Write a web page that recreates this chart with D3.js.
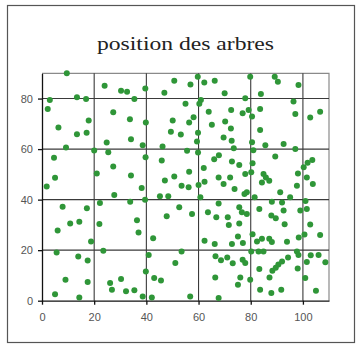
<!DOCTYPE html>
<html>
<head>
<meta charset="utf-8">
<script src="https://cdn.jsdelivr.net/npm/d3@7"></script>
<style>
  body { margin: 0; background: #fff; }
</style>
</head>
<body>
<div id="chart"></div>
<script>
const title = "position des arbres";
const xTicks = [0, 20, 40, 60, 80, 100];
const yTicks = [0, 20, 40, 60, 80];

// tree positions [x, y], grouped by horizontal band of the grid
const trees60to90 = [
  [9.5, 90], [24.0, 85.1], [30.3, 83.1], [32.6, 82.7], [35.4, 79.8], [39.6, 84.0], [50.7, 87.1],
  [46.9, 82.3], [3.0, 79.4], [13.4, 80.5], [16.9, 79.8], [2.2, 75.9], [17.9, 71.3], [6.3, 68.5],
  [13.4, 65.9], [17.1, 66.5], [27.3, 74.6], [33.7, 71.8], [39.8, 70.5], [24.8, 62.6], [34.1, 63.9],
  [38.6, 61.5], [9.2, 60.6], [46.2, 61.0], [50.1, 71.3], [49.4, 66.9], [53.2, 65.8], [20.0, 59.4],
  [25.4, 58.8],
  [59.7, 88.6], [56.9, 85.6], [62.2, 86.4], [66.2, 87.1], [79.8, 88.6], [89.2, 88.6], [90.4, 86.7],
  [98.3, 85.4], [70.0, 82.1], [83.9, 81.8], [77.9, 80.1], [60.9, 79.4], [60.3, 77.9], [55.0, 77.9],
  [96.4, 78.8], [63.9, 74.8], [72.5, 75.5], [76.9, 74.2], [79.2, 75.5], [80.5, 72.9], [83.6, 75.9],
  [97.1, 73.9], [102.8, 72.5], [106.6, 74.8], [58.1, 72.6], [56.4, 70.5], [65.1, 69.6], [70.2, 70.9],
  [72.4, 68.2], [83.6, 67.6], [59.8, 66.5], [69.6, 64.6], [72.7, 63.3], [73.5, 60.3], [80.5, 62.7],
  [81.0, 59.5], [85.6, 61.5], [92.6, 62.0], [59.4, 63.0], [55.6, 59.3], [59.8, 58.7], [97.1, 60.0],
  [89.4, 57.1]
];

const trees40to60 = [
  [4.6, 56.6], [5.0, 48.7], [1.8, 45.2], [39.7, 56.8], [45.9, 55.5], [27.3, 53.1], [21.0, 50.3],
  [34.1, 49.6], [47.1, 47.6], [50.7, 49.2], [38.2, 44.6], [53.5, 45.5], [27.7, 41.8], [39.5, 40.0],
  [45.2, 41.3], [48.4, 41.3],
  [66.0, 56.0], [67.8, 57.6], [72.8, 55.1], [75.6, 53.7], [80.7, 54.4], [62.0, 52.5], [56.4, 51.0],
  [77.9, 50.1], [80.2, 50.8], [84.9, 50.1], [85.8, 48.8], [84.3, 46.8], [87.1, 47.5], [98.1, 50.3],
  [100.3, 52.8], [101.8, 54.6], [103.6, 55.7], [67.7, 48.8], [69.6, 46.2], [72.1, 48.8], [101.5, 48.8],
  [103.8, 46.2], [56.2, 44.9], [60.0, 45.8], [62.3, 47.1], [73.8, 44.2], [78.5, 42.9], [77.6, 42.2],
  [91.3, 42.9], [97.7, 45.5], [60.7, 40.9], [81.5, 40.9], [95.1, 40.9]
];

const trees20to40 = [
  [22.2, 38.7], [33.8, 39.2], [7.9, 37.2], [17.2, 36.6], [47.8, 33.4], [52.6, 37.0], [10.8, 30.6],
  [14.3, 31.2], [36.4, 31.8], [22.0, 30.4], [6.0, 27.8], [37.0, 27.0], [42.6, 24.7], [18.8, 23.4],
  [88.1, 39.2], [92.0, 38.9], [101.0, 39.5], [67.7, 38.5], [63.6, 35.0], [66.8, 33.0], [57.5, 34.3],
  [75.6, 37.0], [76.6, 35.0], [78.5, 34.3], [83.3, 36.3], [87.9, 33.7], [89.6, 32.6], [92.6, 35.7],
  [99.0, 35.7], [101.5, 36.3], [71.2, 33.0], [71.6, 30.0], [75.6, 30.6], [80.7, 26.3], [82.4, 23.4],
  [84.3, 24.5], [87.1, 24.5], [88.1, 23.2], [93.0, 30.3], [93.9, 23.3], [98.4, 25.0], [100.6, 26.2],
  [102.8, 30.2], [106.6, 26.0], [62.3, 23.7], [66.2, 22.4], [72.8, 22.4], [75.1, 25.4], [77.0, 22.8]
];

const trees0to20 = [
  [5.6, 19.1], [13.9, 17.5], [17.5, 15.9], [23.5, 19.8], [40.9, 18.1], [53.5, 19.5], [51.1, 14.9],
  [39.8, 11.6], [43.0, 9.0], [45.6, 8.0], [9.0, 8.3], [17.5, 7.4], [26.1, 7.0], [26.8, 4.3],
  [30.3, 8.6], [32.2, 3.7], [35.4, 4.1], [38.6, 1.7], [42.1, 1.3], [5.0, 2.6], [14.3, 1.3],
  [66.5, 17.6], [68.6, 16.0], [71.0, 17.1], [73.1, 14.8], [76.9, 16.2], [77.9, 14.9], [80.2, 19.5],
  [83.0, 19.5], [84.9, 19.5], [83.3, 12.5], [87.2, 9.2], [88.3, 11.9], [89.6, 13.0], [90.6, 14.3],
  [92.0, 15.5], [94.3, 17.1], [97.7, 19.5], [98.3, 18.1], [101.5, 15.3], [103.0, 18.0], [106.0, 18.1],
  [108.6, 15.2], [98.0, 12.7], [100.9, 9.0], [66.4, 9.2], [76.0, 9.2], [75.1, 6.3], [79.8, 8.3],
  [83.6, 4.3], [87.9, 3.0], [91.7, 4.3], [105.0, 3.9], [56.8, 1.7], [67.7, 1.1]
];

const trees = [].concat(trees60to90, trees40to60, trees20to40, trees0to20);

// dimensions
const width = 357, height = 345;
const margin = { top: 73.3, right: 28, bottom: 44.3, left: 42 };
const plotRight = width - margin.right;
const plotBottom = height - margin.bottom;

const svg = d3.select("#chart").append("svg")
  .attr("width", width)
  .attr("height", height);

// outer frame of the picture
svg.append("rect")
  .attr("x", 7.5).attr("y", 5.5)
  .attr("width", 347).attr("height", 337)
  .attr("fill", "none")
  .attr("stroke", "#555")
  .attr("stroke-width", 1.2);

// title
svg.append("text")
  .attr("x", (margin.left + plotRight) / 2)
  .attr("y", 50)
  .attr("text-anchor", "middle")
  .attr("font-family", "'Liberation Serif', 'Times New Roman', serif")
  .attr("font-size", 18)
  .attr("fill", "#222")
  .attr("textLength", 177)
  .attr("lengthAdjust", "spacingAndGlyphs")
  .text(title);

// scales
const x = d3.scaleLinear().domain([0, 110]).range([margin.left, plotRight]);
const y = d3.scaleLinear().domain([0, 90]).range([plotBottom, margin.top]);

// top and right border of the plot (lighter)
svg.append("path")
  .attr("d", `M${x(0)},${y(90)}H${x(110)}V${y(0)}`)
  .attr("fill", "none")
  .attr("stroke", "#8a8a8a")
  .attr("stroke-width", 1.2);

// grid lines
const grid = svg.append("g").attr("stroke", "#3a3a3a").attr("stroke-width", 1.1);
grid.selectAll(".vgrid")
  .data(xTicks.filter(d => d > 0))
  .enter().append("line")
  .attr("x1", d => x(d)).attr("x2", d => x(d))
  .attr("y1", y(0)).attr("y2", y(90));
grid.selectAll(".hgrid")
  .data(yTicks.filter(d => d > 0))
  .enter().append("line")
  .attr("x1", x(0)).attr("x2", x(110))
  .attr("y1", d => y(d)).attr("y2", d => y(d));

// axes
const xAxis = svg.append("g")
  .attr("transform", `translate(0,${y(0)})`)
  .call(d3.axisBottom(x).tickValues(xTicks).tickSize(4).tickSizeOuter(0).tickPadding(9));
const yAxis = svg.append("g")
  .attr("transform", `translate(${x(0)},0)`)
  .call(d3.axisLeft(y).tickValues(yTicks).tickSize(4).tickSizeOuter(0).tickPadding(5));

[xAxis, yAxis].forEach(a => {
  a.selectAll("path, line").attr("stroke", "#111").attr("stroke-width", 1.3);
  a.selectAll("text")
    .attr("font-family", "'Liberation Sans', Arial, sans-serif")
    .attr("font-size", 11)
    .attr("fill", "#555");
});

// trees
svg.append("g")
  .selectAll("circle")
  .data(trees)
  .enter().append("circle")
  .attr("cx", d => x(d[0]))
  .attr("cy", d => y(d[1]))
  .attr("r", 3)
  .attr("fill", "#2f9638");
</script>
</body>
</html>
